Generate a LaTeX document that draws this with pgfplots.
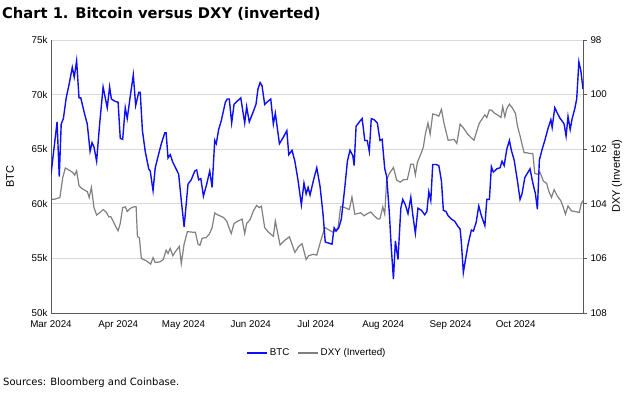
\documentclass[border=0pt]{standalone}
\usepackage{pgfplots}
\pgfplotsset{compat=1.18}
\usepackage{pgfplotstable}
\usepackage{fontspec}
\setmainfont{Liberation Sans}
\newfontfamily\verd{DejaVu Sans}
\definecolor{btcblue}{RGB}{15,15,245}
\definecolor{dxygray}{RGB}{128,128,128}
\definecolor{gridgray}{RGB}{217,217,217}
\definecolor{axisgray}{RGB}{90,90,90}

% day = days since 1 Mar 2024; btc in thousands USD
\pgfplotstableread{
day btc
0 62.7
2.8 67.5
3.8 62.5
4.7 67.3
5.7 67.8
7.0 69.7
8.4 71.0
9.8 72.5
10.7 71.6
11.8 73.1
12.9 69.7
13.7 69.7
15.5 68.2
16.7 67.3
18.0 64.8
18.9 65.6
19.8 65.2
21.0 63.9
22.4 67.3
24.0 70.7
25.9 68.8
27.0 70.7
27.8 69.6
29.3 69.4
30.9 69.3
31.9 66.0
33.0 65.9
34.2 68.8
35.1 67.8
36.4 69.7
37.9 71.8
39.0 69.0
40.4 70.2
41.1 70.2
42.1 66.7
43.4 64.8
45.0 63.2
45.7 63.0
47.0 61.2
48.0 63.3
49.0 64.1
50.8 65.5
52.4 66.5
53.0 66.5
53.9 64.2
54.9 64.5
56.1 63.8
57.6 63.2
58.8 62.7
60.0 60.3
61.3 57.9
63.1 61.8
64.6 62.2
66.2 63.0
67.1 63.1
68.0 62.2
69.0 62.3
70.2 60.7
71.7 61.8
73.1 63.0
74.2 61.5
75.4 65.8
76.1 65.5
77.2 66.8
78.4 67.6
80.3 69.3
81.2 69.6
82.1 69.6
83.2 67.4
84.3 69.1
85.8 69.4
87.4 69.7
89.2 67.4
90.1 68.9
91.3 67.5
92.9 68.3
94.4 69.1
95.3 70.5
96.3 71.1
97.2 70.8
98.4 69.1
100.0 69.4
101.2 69.6
102.4 67.3
103.3 68.3
105.2 65.5
107.0 66.1
108.6 66.7
109.5 64.5
111.0 64.9
112.3 63.9
113.8 62.1
115.3 59.9
116.5 61.9
117.5 60.9
118.4 61.5
119.3 60.8
120.8 62.1
122.4 63.3
123.9 61.6
125.3 59.0
126.3 56.5
127.9 56.4
129.4 56.3
130.4 57.8
131.3 57.5
132.5 57.8
133.7 58.6
135.3 61.5
136.5 63.9
137.7 64.9
139.0 64.4
139.6 63.5
140.5 67.1
142.0 67.5
143.3 67.8
144.5 65.8
145.6 65.8
146.6 64.8
147.5 67.8
148.8 67.7
150.3 67.4
151.5 65.8
152.5 65.9
153.7 63.2
154.6 62.5
155.8 59.2
156.7 56.0
157.7 53.1
158.6 56.6
159.8 54.9
161.1 59.6
162.0 60.4
163.2 59.9
164.4 59.1
165.7 60.6
166.6 59.0
167.8 57.3
169.0 59.6
170.6 59.4
172.1 59.0
173.1 59.3
174.0 61.1
174.9 60.3
175.8 63.6
177.3 63.6
178.6 63.5
179.8 62.1
180.7 59.4
181.9 59.3
182.9 58.9
184.4 58.6
185.9 58.4
187.5 57.9
188.4 57.7
189.0 56.4
189.9 53.7
190.8 54.8
192.1 56.3
193.6 57.6
194.5 57.5
195.8 58.3
197.0 59.8
198.2 58.9
199.8 58.0
200.7 60.4
201.9 60.4
202.8 63.4
203.7 62.9
205.3 63.2
206.8 63.3
207.7 63.9
208.7 63.5
209.9 65.0
211.1 65.8
212.0 64.9
213.3 64.0
214.8 62.1
216.0 60.4
216.9 60.9
218.2 62.4
219.7 62.9
220.6 63.2
221.9 61.9
223.1 60.9
224.0 59.5
224.9 64.0
226.2 65.0
227.4 65.8
228.9 66.9
230.2 67.7
230.8 67.0
232.0 68.8
233.2 68.3
234.5 67.8
235.7 67.5
236.3 67.3
237.2 66.2
238.1 68.0
239.1 66.8
240.0 67.8
241.2 68.7
242.1 69.6
243.1 73.0
244.0 72.2
245.0 70.5
}\btctable

\pgfplotstableread{
day dxy
0 103.83
1.7 103.83
4.1 103.77
5.4 103.04
6.6 102.69
8.8 102.79
10.0 102.85
10.9 102.95
11.8 102.79
12.9 103.34
14.0 103.43
15.5 103.50
16.7 103.55
17.6 103.77
18.6 103.40
19.8 104.14
21.0 104.41
22.6 104.32
24.0 104.21
25.5 104.31
26.6 104.48
27.5 104.47
28.7 104.65
29.9 104.85
30.9 104.99
31.9 104.72
33.0 104.14
34.2 104.11
35.1 104.28
36.7 104.16
38.2 104.11
39.2 104.11
39.8 105.20
40.7 105.24
41.6 106.00
43.9 106.09
45.9 106.21
47.0 105.97
48.0 106.15
50.1 106.13
51.7 106.04
53.0 105.70
53.9 105.82
54.9 105.63
56.1 105.90
57.3 105.75
59.1 105.56
60.0 106.19
61.3 105.48
62.8 105.02
65.3 105.04
66.5 105.04
67.7 105.48
68.6 105.52
69.6 105.26
71.4 105.24
72.9 105.11
74.2 104.87
75.4 104.34
76.9 104.41
79.4 104.50
80.9 104.63
82.5 104.99
83.0 105.09
84.3 104.72
86.1 104.63
88.0 104.56
89.2 105.09
90.1 104.72
91.7 104.58
93.2 104.26
94.7 104.06
95.9 104.14
96.9 104.09
98.4 104.87
99.9 105.02
101.2 105.11
102.4 105.19
103.3 104.63
105.5 105.51
107.3 105.36
109.8 105.21
112.3 105.78
114.1 105.56
115.6 105.46
117.5 106.04
118.7 105.90
120.8 105.85
122.4 105.88
124.2 105.36
126.1 104.87
127.6 104.94
129.8 105.04
131.0 104.99
132.2 104.87
133.4 104.10
135.3 104.14
137.4 104.21
138.6 103.75
139.9 104.38
141.1 104.36
142.6 104.33
144.2 104.44
145.7 104.36
147.3 104.30
148.8 104.44
150.6 104.56
151.5 104.55
152.8 104.11
153.7 104.38
154.6 103.11
155.8 102.89
157.7 102.67
159.2 103.13
160.8 103.21
162.3 103.12
164.1 103.11
165.7 102.55
166.9 102.55
167.8 102.94
168.7 102.49
170.6 102.12
171.5 101.91
172.4 101.45
173.6 101.04
174.6 101.45
175.8 100.71
177.3 100.74
178.6 100.79
179.8 100.54
181.0 101.06
182.9 101.67
184.4 101.66
185.6 101.64
186.9 101.79
188.4 101.08
189.9 101.22
192.1 101.47
193.6 101.59
194.8 101.67
196.1 101.33
197.3 101.04
198.8 100.86
199.8 100.74
200.7 100.84
201.9 100.56
202.8 100.57
204.4 100.69
205.6 100.74
207.2 100.84
208.0 100.44
209.0 100.81
209.9 100.52
211.1 100.35
212.3 100.47
213.9 100.69
214.8 101.14
216.0 101.51
217.3 101.94
217.9 102.13
219.1 102.13
220.6 102.16
221.9 102.16
222.8 102.89
224.0 102.92
225.2 102.85
226.7 103.16
228.3 103.26
229.2 103.53
230.5 103.77
231.7 103.48
233.2 103.72
234.8 103.89
235.7 104.08
236.9 104.38
238.1 104.08
239.7 104.26
241.2 104.28
243.3 104.32
244.2 103.99
245.0 103.89
}\dxytable

\pgfplotsset{common/.style={
  scale only axis, width=532pt, height=273pt,
  at={(51pt,82pt)}, anchor=south west,
  xmin=0, xmax=245,
  xtick={0,31,61,92,122,153,184,214},
  xticklabels={Mar 2024,Apr 2024,May 2024,Jun 2024,Jul 2024,Aug 2024,Sep 2024,Oct 2024},
  ticklabel style={font=\fontsize{9.8}{11}\selectfont},
  /pgf/number format/assume math mode=true,
  axis line style={axisgray, line width=0.9pt},
  tick style={axisgray, line width=0.8pt},
}}

\begin{document}
\begin{tikzpicture}
\useasboundingbox (0,0) rectangle (632pt,395pt);

\begin{axis}[common,
  ymin=98, ymax=108, y dir=reverse,
  ytick={98,100,102,104,106,108},
  axis y line*=right, axis x line*=bottom,
  tick align=outside, major tick length=4pt,
  xtick style={draw=none},
  ymajorgrids, grid style={gridgray, line width=0.8pt},
]
\addplot[dxygray, line width=1.2pt] table[x=day, y=dxy] {\dxytable};
\end{axis}

\begin{axis}[common,
  ymin=50, ymax=75,
  ytick={50,55,60,65,70,75},
  yticklabels={50k,55k,60k,65k,70k,75k},
  axis y line*=left, axis x line=none,
  ytick style={draw=none},
  legend columns=2,
  legend style={at={(0.5,-0.1465)}, anchor=center, draw=none, fill=none,
    font=\fontsize{9.8}{11}\selectfont,
    /tikz/every even column/.append style={column sep=6pt}},
  legend image code/.code={\draw[#1] (0pt,0pt) -- (20pt,0pt);},
]
\addplot[btcblue, line width=1.4pt] table[x=day, y=btc] {\btctable};
\addlegendentry{BTC}
\addlegendimage{dxygray, line width=1.2pt}
\addlegendentry{DXY (Inverted)}
\end{axis}

\node[rotate=90, font=\fontsize{11}{13}\selectfont] at (10pt,218.5pt) {BTC};
\node[rotate=90, font=\fontsize{11}{13}\selectfont] at (617pt,218.5pt) {DXY (Inverted)};
\node[anchor=west, inner sep=0pt, font=\verd\bfseries\fontsize{14.7}{17}\selectfont] at (2pt,381pt) {Chart 1. Bitcoin versus DXY (inverted)};
\node[anchor=west, inner sep=0pt, font=\verd\fontsize{10}{12}\selectfont] at (3pt,12pt) {Sources: Bloomberg and Coinbase.};
\end{tikzpicture}
\end{document}
